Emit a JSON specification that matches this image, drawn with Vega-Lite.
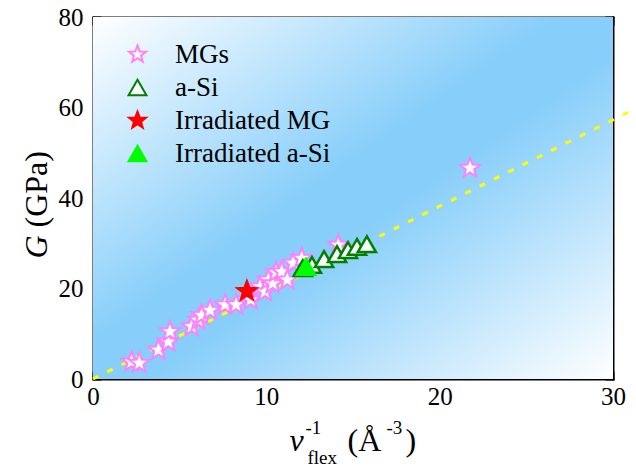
{
  "$schema": "https://vega.github.io/schema/vega-lite/v6.json",
  "width": 520,
  "height": 362,
  "autosize": {"type": "none"},
  "padding": {"left": 93, "top": 17, "right": 23, "bottom": 87},
  "background": "white",
  "datasets": {
    "bg": [{"x0": 0, "x1": 30, "g0": 0, "g1": 80}],
    "fit": [{"x": 0, "G": 0}, {"x": 30.9, "G": 59}],
    "stars": [
      {"x": 2.23, "G": 3.8, "series": "MGs"},
      {"x": 2.67, "G": 3.5, "series": "MGs"},
      {"x": 3.77, "G": 6.4, "series": "MGs"},
      {"x": 4.34, "G": 8.2, "series": "MGs"},
      {"x": 4.44, "G": 10.5, "series": "MGs"},
      {"x": 5.69, "G": 11.6, "series": "MGs"},
      {"x": 6.07, "G": 13.0, "series": "MGs"},
      {"x": 6.27, "G": 14.1, "series": "MGs"},
      {"x": 6.75, "G": 15.2, "series": "MGs"},
      {"x": 7.62, "G": 16.4, "series": "MGs"},
      {"x": 8.25, "G": 16.4, "series": "MGs"},
      {"x": 9.1, "G": 17.5, "series": "MGs"},
      {"x": 9.63, "G": 20.4, "series": "MGs"},
      {"x": 9.92, "G": 19.3, "series": "MGs"},
      {"x": 10.11, "G": 21.9, "series": "MGs"},
      {"x": 10.37, "G": 21.1, "series": "MGs"},
      {"x": 10.56, "G": 23.6, "series": "MGs"},
      {"x": 10.89, "G": 23.7, "series": "MGs"},
      {"x": 11.21, "G": 21.9, "series": "MGs"},
      {"x": 11.55, "G": 25.6, "series": "MGs"},
      {"x": 12.04, "G": 26.7, "series": "MGs"},
      {"x": 14.15, "G": 29.6, "series": "MGs"},
      {"x": 21.75, "G": 46.6, "series": "MGs"},
      {"x": 8.88, "G": 19.4, "series": "Irradiated MG"}
    ],
    "tris": [
      {"x": 12.1, "G": 24.5, "series": "a-Si"},
      {"x": 12.63, "G": 25.2, "series": "a-Si"},
      {"x": 13.33, "G": 26.5, "series": "a-Si"},
      {"x": 14.08, "G": 27.6, "series": "a-Si"},
      {"x": 14.71, "G": 28.5, "series": "a-Si"},
      {"x": 15.23, "G": 29.2, "series": "a-Si"},
      {"x": 15.8, "G": 29.8, "series": "a-Si"},
      {"x": 12.29, "G": 24.8, "series": "Irradiated a-Si"}
    ]
  },
  "layer": [
    {
      "data": {"name": "bg"},
      "mark": {
        "type": "rect",
        "fill": {"gradient": "linear", "x1": 0, "y1": 0, "x2": 1, "y2": 1,
          "stops": [{"offset": 0, "color": "#ffffff"}, {"offset": 0.45, "color": "#87cefa"}, {"offset": 0.55, "color": "#87cefa"}, {"offset": 1, "color": "#ffffff"}]}
      },
      "encoding": {
        "x": {"field": "x0", "type": "quantitative", "scale": {"domain": [0, 30], "nice": false, "zero": false},
          "axis": {"orient": "bottom", "values": [0, 10, 20, 30], "labels": true, "ticks": false, "tickSize": 0, "labelPadding": 5, "labelBaseline": "top", "domain": true,
            "title": "v", "titleFontStyle": "italic", "titleFontSize": 32, "titleX": 196, "titleY": 71}},
        "x2": {"field": "x1"},
        "y": {"field": "g0", "type": "quantitative", "scale": {"domain": [0, 80], "nice": false, "zero": false},
          "axis": {"orient": "left", "values": [0, 20, 40, 60, 80], "labels": true, "ticks": false, "tickSize": 0, "labelPadding": 10, "domain": true,
            "title": "G", "titleFontStyle": "italic", "titleFontSize": 32, "titleX": -47, "titleY": 241, "titleAngle": -90}},
        "y2": {"field": "g1"}
      }
    },
    {
      "data": {"name": "fit"},
      "mark": {"type": "line", "color": "#ffff00", "strokeWidth": 3, "strokeDash": [6, 10], "clip": false},
      "encoding": {
        "x": {"field": "x", "type": "quantitative",
          "axis": {"orient": "bottom", "values": [0, 10, 20, 30], "tickSize": -8, "title": "-1", "titleFontSize": 19, "titleX": 212, "titleY": 54}},
        "y": {"field": "G", "type": "quantitative",
          "axis": {"orient": "left", "values": [0, 20, 40, 60, 80], "tickSize": -8, "title": "(GPa)", "titleFontSize": 32, "titleX": -47, "titleY": 210, "titleAngle": -90}}
      }
    },
    {
      "data": {"name": "stars"},
      "mark": {"type": "point", "strokeWidth": 2, "opacity": 1, "size": 430},
      "encoding": {
        "x": {"field": "x", "type": "quantitative",
          "axis": {"orient": "bottom", "values": [5, 15, 25], "tickSize": -4, "title": "flex", "titleFontSize": 19, "titleX": 214, "titleY": 84}},
        "y": {"field": "G", "type": "quantitative",
          "axis": {"orient": "left", "values": [10, 30, 50, 70], "tickSize": -4, "title": null}},
        "shape": {"field": "series", "type": "nominal",
          "scale": {"domain": ["MGs", "a-Si", "Irradiated MG", "Irradiated a-Si"],
            "range": ["M0,-1L0.247,-0.34L0.951,-0.309L0.399,0.13L0.588,0.809L0,0.42L-0.588,0.809L-0.399,0.13L-0.951,-0.309L-0.247,-0.34Z", "triangle-up", "M0,-1L0.247,-0.34L0.951,-0.309L0.399,0.13L0.588,0.809L0,0.42L-0.588,0.809L-0.399,0.13L-0.951,-0.309L-0.247,-0.34Z", "triangle-up"]},
          "legend": {"title": null, "orient": "none", "legendX": 31, "legendY": 24}},
        "stroke": {"field": "series", "type": "nominal",
          "scale": {"domain": ["MGs", "a-Si", "Irradiated MG", "Irradiated a-Si"], "range": ["#ff7fff", "#008000", "#ff0000", "#00ff00"]}},
        "fill": {"field": "series", "type": "nominal",
          "scale": {"domain": ["MGs", "a-Si", "Irradiated MG", "Irradiated a-Si"], "range": ["#ffffff", "#ffffff", "#ff0000", "#00ff00"]}}
      }
    },
    {
      "data": {"name": "tris"},
      "mark": {"type": "point", "strokeWidth": 2.5, "opacity": 1, "size": 330},
      "encoding": {
        "x": {"field": "x", "type": "quantitative",
          "axis": {"orient": "top", "values": [5, 15, 25], "tickSize": -4, "title": "-3", "titleFontSize": 19, "titleX": 293, "titleY": 416}},
        "y": {"field": "G", "type": "quantitative",
          "axis": {"orient": "right", "values": [10, 30, 50, 70], "tickSize": -4, "title": null}},
        "shape": {"field": "series", "type": "nominal"},
        "stroke": {"field": "series", "type": "nominal"},
        "fill": {"field": "series", "type": "nominal"}
      }
    },
    {
      "data": {"name": "fit"},
      "mark": {"type": "point", "opacity": 0},
      "encoding": {
        "x": {"field": "x", "type": "quantitative",
          "axis": {"orient": "top", "values": [0, 10, 20, 30], "tickSize": -8, "domain": true, "title": "(Å", "titleFontSize": 32, "titleX": 254, "titleY": 433}},
        "y": {"field": "G", "type": "quantitative",
          "axis": {"orient": "right", "values": [0, 20, 40, 60, 80], "tickSize": -8, "domain": true, "title": null}}
      }
    },
    {
      "data": {"name": "fit"},
      "mark": {"type": "point", "opacity": 0},
      "encoding": {
        "x": {"field": "x", "type": "quantitative",
          "axis": {"orient": "top", "ticks": false, "title": ")", "titleFontSize": 32, "titleX": 312, "titleY": 433}},
        "y": {"field": "G", "type": "quantitative", "axis": null}
      }
    }
  ],
  "resolve": {"axis": {"x": "independent", "y": "independent"}},
  "config": {
    "view": {"stroke": null},
    "axis": {
      "domain": false, "domainColor": "black", "domainWidth": 2, "domainCap": "square",
      "ticks": true, "tickColor": "black", "tickWidth": 2,
      "labels": false, "grid": false,
      "labelFont": "Liberation Serif", "labelFontSize": 25, "labelColor": "black",
      "labelFlush": false, "labelOverlap": false,
      "titleFont": "Liberation Serif", "titleColor": "black", "titleFontWeight": "normal",
      "titleAlign": "left", "titleBaseline": "alphabetic",
      "zindex": 1
    },
    "axisX": {"titleAngle": 0},
    "legend": {
      "labelFont": "Liberation Serif", "labelFontSize": 27, "labelColor": "black",
      "symbolSize": 320, "symbolStrokeWidth": 2, "rowPadding": 5, "labelOffset": 24, "padding": 0
    }
  }
}
